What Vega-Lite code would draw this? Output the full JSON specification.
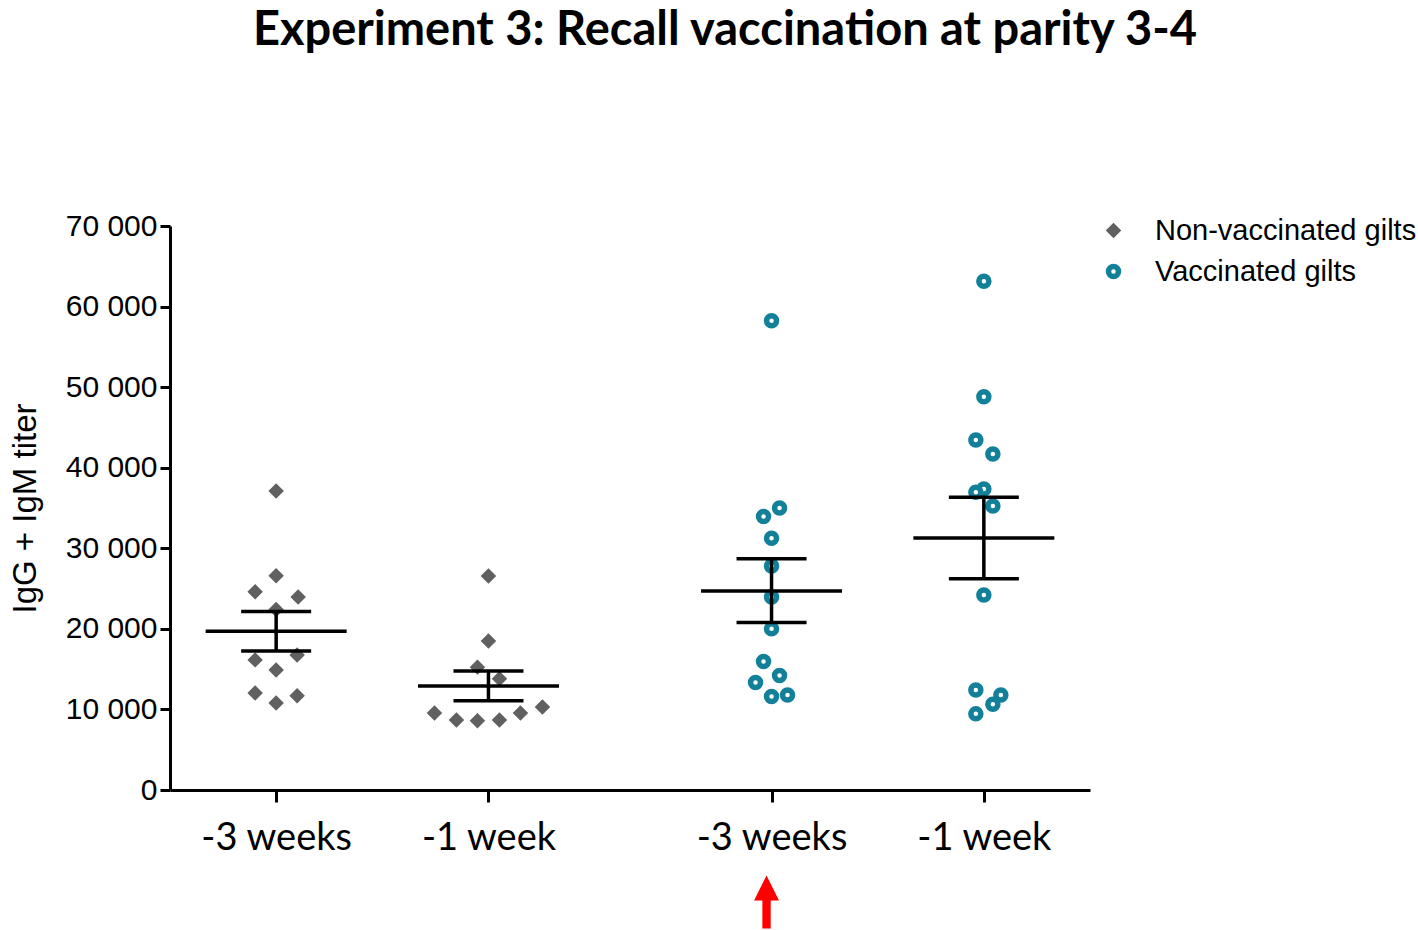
{
  "$schema": "https://vega.github.io/schema/vega-lite/v6.json",
  "width": 920,
  "height": 564,
  "autosize": {"type": "none"},
  "padding": {"left": 170, "top": 226, "right": 328, "bottom": 140},
  "background": "white",
  "title": {
    "text": "Experiment 3: Recall vaccination at parity 3-4",
    "font": "Lato",
    "fontSize": 47,
    "fontWeight": "bold",
    "color": "black",
    "anchor": "middle",
    "frame": "group",
    "dx": 95,
    "offset": 156
  },
  "config": {
    "view": {"stroke": null},
    "axis": {"grid": false, "domainColor": "black", "tickColor": "black", "labelColor": "black", "titleColor": "black"}
  },
  "datasets": {
    "points": [
      {"group": "NV|-3 weeks", "series": "Non-vaccinated gilts", "titer": 37100, "jitter": 0},
      {"group": "NV|-3 weeks", "series": "Non-vaccinated gilts", "titer": 26600, "jitter": 0},
      {"group": "NV|-3 weeks", "series": "Non-vaccinated gilts", "titer": 24600, "jitter": -21},
      {"group": "NV|-3 weeks", "series": "Non-vaccinated gilts", "titer": 23950, "jitter": 22},
      {"group": "NV|-3 weeks", "series": "Non-vaccinated gilts", "titer": 22400, "jitter": 0},
      {"group": "NV|-3 weeks", "series": "Non-vaccinated gilts", "titer": 16750, "jitter": 21},
      {"group": "NV|-3 weeks", "series": "Non-vaccinated gilts", "titer": 16150, "jitter": -21},
      {"group": "NV|-3 weeks", "series": "Non-vaccinated gilts", "titer": 14900, "jitter": 0},
      {"group": "NV|-3 weeks", "series": "Non-vaccinated gilts", "titer": 12050, "jitter": -21},
      {"group": "NV|-3 weeks", "series": "Non-vaccinated gilts", "titer": 11700, "jitter": 21},
      {"group": "NV|-3 weeks", "series": "Non-vaccinated gilts", "titer": 10800, "jitter": 0},
      {"group": "NV|-1 week", "series": "Non-vaccinated gilts", "titer": 26550, "jitter": 0},
      {"group": "NV|-1 week", "series": "Non-vaccinated gilts", "titer": 18500, "jitter": 0},
      {"group": "NV|-1 week", "series": "Non-vaccinated gilts", "titer": 15250, "jitter": -11},
      {"group": "NV|-1 week", "series": "Non-vaccinated gilts", "titer": 13800, "jitter": 11},
      {"group": "NV|-1 week", "series": "Non-vaccinated gilts", "titer": 9550, "jitter": -54},
      {"group": "NV|-1 week", "series": "Non-vaccinated gilts", "titer": 8700, "jitter": -32},
      {"group": "NV|-1 week", "series": "Non-vaccinated gilts", "titer": 8600, "jitter": -11},
      {"group": "NV|-1 week", "series": "Non-vaccinated gilts", "titer": 8700, "jitter": 11},
      {"group": "NV|-1 week", "series": "Non-vaccinated gilts", "titer": 9550, "jitter": 32},
      {"group": "NV|-1 week", "series": "Non-vaccinated gilts", "titer": 10300, "jitter": 54},
      {"group": "V|-3 weeks", "series": "Vaccinated gilts", "titer": 58250, "jitter": 0},
      {"group": "V|-3 weeks", "series": "Vaccinated gilts", "titer": 35000, "jitter": 8},
      {"group": "V|-3 weeks", "series": "Vaccinated gilts", "titer": 33950, "jitter": -8},
      {"group": "V|-3 weeks", "series": "Vaccinated gilts", "titer": 31250, "jitter": 0},
      {"group": "V|-3 weeks", "series": "Vaccinated gilts", "titer": 27800, "jitter": 0},
      {"group": "V|-3 weeks", "series": "Vaccinated gilts", "titer": 23950, "jitter": 0},
      {"group": "V|-3 weeks", "series": "Vaccinated gilts", "titer": 20000, "jitter": 0},
      {"group": "V|-3 weeks", "series": "Vaccinated gilts", "titer": 15950, "jitter": -8},
      {"group": "V|-3 weeks", "series": "Vaccinated gilts", "titer": 14200, "jitter": 8},
      {"group": "V|-3 weeks", "series": "Vaccinated gilts", "titer": 13350, "jitter": -16},
      {"group": "V|-3 weeks", "series": "Vaccinated gilts", "titer": 11800, "jitter": 16},
      {"group": "V|-3 weeks", "series": "Vaccinated gilts", "titer": 11600, "jitter": 0},
      {"group": "V|-1 week", "series": "Vaccinated gilts", "titer": 63150, "jitter": 0},
      {"group": "V|-1 week", "series": "Vaccinated gilts", "titer": 48800, "jitter": 0},
      {"group": "V|-1 week", "series": "Vaccinated gilts", "titer": 43450, "jitter": -8},
      {"group": "V|-1 week", "series": "Vaccinated gilts", "titer": 41700, "jitter": 9},
      {"group": "V|-1 week", "series": "Vaccinated gilts", "titer": 37350, "jitter": 0},
      {"group": "V|-1 week", "series": "Vaccinated gilts", "titer": 36950, "jitter": -8},
      {"group": "V|-1 week", "series": "Vaccinated gilts", "titer": 35250, "jitter": 9},
      {"group": "V|-1 week", "series": "Vaccinated gilts", "titer": 24200, "jitter": 0},
      {"group": "V|-1 week", "series": "Vaccinated gilts", "titer": 12400, "jitter": -8},
      {"group": "V|-1 week", "series": "Vaccinated gilts", "titer": 11800, "jitter": 17},
      {"group": "V|-1 week", "series": "Vaccinated gilts", "titer": 10650, "jitter": 9},
      {"group": "V|-1 week", "series": "Vaccinated gilts", "titer": 9450, "jitter": -8}
    ],
    "summary": [
      {"group": "NV|-3 weeks", "mean": 19700, "lo": 17250, "hi": 22150},
      {"group": "NV|-1 week", "mean": 12900, "lo": 11080, "hi": 14770},
      {"group": "V|-3 weeks", "mean": 24700, "lo": 20800, "hi": 28700},
      {"group": "V|-1 week", "mean": 31280, "lo": 26230, "hi": 36330}
    ],
    "arrow": [
      {"group": "V|-3 weeks", "label": "vaccination"}
    ]
  },
  "encoding": {
    "x": {
      "field": "group",
      "type": "nominal",
      "scale": {
        "type": "point",
        "domain": ["s0", "NV|-3 weeks", "s1", "s2", "NV|-1 week", "s3", "s4", "s5", "V|-3 weeks", "s6", "s7", "V|-1 week", "s8"],
        "padding": 0.5
      },
      "axis": {
        "title": null,
        "values": ["NV|-3 weeks", "NV|-1 week", "V|-3 weeks", "V|-1 week"],
        "labelExpr": "split(datum.value, '|')[1]",
        "labelAngle": 0,
        "labelFont": "Lato",
        "labelFontSize": 38,
        "labelPadding": 17,
        "tickSize": 12,
        "tickWidth": 3,
        "domainWidth": 3
      }
    }
  },
  "layer": [
    {
      "data": {"name": "points"},
      "mark": {"type": "point", "filled": true, "opacity": 1},
      "encoding": {
        "y": {
          "field": "titer",
          "type": "quantitative",
          "scale": {"domain": [0, 70000], "nice": false, "zero": true},
          "axis": {
            "title": "IgG + IgM titer",
            "values": [0, 10000, 20000, 30000, 40000, 50000, 60000, 70000],
            "labelExpr": "replace(format(datum.value, ','), ',', ' ')",
            "labelFont": "Liberation Sans",
            "labelFontSize": 30,
            "labelPadding": 3,
            "tickSize": 10,
            "tickWidth": 3,
            "domainWidth": 3,
            "titleFont": "Liberation Sans",
            "titleFontSize": 33,
            "titleFontWeight": "normal",
            "titlePadding": 23
          }
        },
        "xOffset": {"field": "jitter", "type": "quantitative", "scale": {"domain": [-60, 60], "range": [-60, 60]}},
        "shape": {
          "field": "series", "type": "nominal",
          "scale": {"domain": ["Non-vaccinated gilts", "Vaccinated gilts"], "range": ["diamond", "circle"]},
          "legend": {
            "title": null,
            "orient": "none",
            "legendX": 929,
            "legendY": -10,
            "padding": 0,
            "labelFont": "Liberation Sans",
            "labelFontSize": 29,
            "labelColor": "black",
            "labelLimit": 500,
            "labelOffset": 27,
            "rowPadding": 9
          }
        },
        "fill": {"field": "series", "type": "nominal", "scale": {"domain": ["Non-vaccinated gilts", "Vaccinated gilts"], "range": ["#606060", "#ffffff"]}},
        "stroke": {"field": "series", "type": "nominal", "scale": {"domain": ["Non-vaccinated gilts", "Vaccinated gilts"], "range": ["#606060", "#13809a"]}},
        "strokeWidth": {"field": "series", "type": "nominal", "scale": {"domain": ["Non-vaccinated gilts", "Vaccinated gilts"], "range": [0, 5.5]}},
        "size": {"field": "series", "type": "nominal", "scale": {"domain": ["Non-vaccinated gilts", "Vaccinated gilts"], "range": [240, 100]}}
      }
    },
    {
      "data": {"name": "summary"},
      "mark": {"type": "rule", "color": "black", "strokeWidth": 3.5},
      "encoding": {
        "y": {"field": "lo", "type": "quantitative"},
        "y2": {"field": "hi"}
      }
    },
    {
      "data": {"name": "summary"},
      "mark": {"type": "tick", "color": "black", "thickness": 3.5, "size": 141, "opacity": 1},
      "encoding": {"y": {"field": "mean", "type": "quantitative"}}
    },
    {
      "data": {"name": "summary"},
      "mark": {"type": "tick", "color": "black", "thickness": 3.5, "size": 70, "opacity": 1},
      "encoding": {"y": {"field": "lo", "type": "quantitative"}}
    },
    {
      "data": {"name": "summary"},
      "mark": {"type": "tick", "color": "black", "thickness": 3.5, "size": 70, "opacity": 1},
      "encoding": {"y": {"field": "hi", "type": "quantitative"}}
    },
    {
      "data": {"name": "arrow"},
      "mark": {
        "type": "point",
        "filled": true,
        "color": "#ff0000",
        "opacity": 1,
        "size": 2809,
        "shape": "M-0.157,1 L-0.157,-0.06 L-0.47,-0.06 L0,-1 L0.47,-0.06 L0.157,-0.06 L0.157,1 Z",
        "xOffset": -5,
        "yOffset": 112
      },
      "encoding": {"y": {"datum": 0, "type": "quantitative"}}
    }
  ]
}
